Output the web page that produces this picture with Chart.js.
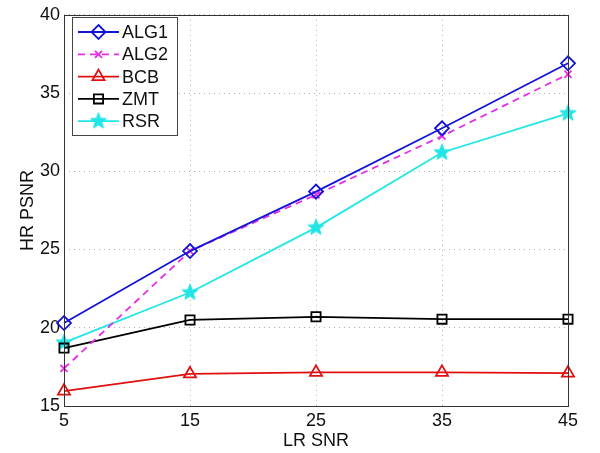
<!DOCTYPE html>
<html>
<head>
<meta charset="utf-8">
<script src="https://cdn.jsdelivr.net/npm/chart.js@4/dist/chart.umd.min.js"></script>
<style>
  html, body { margin: 0; padding: 0; background: #fff; }
  #wrap { width: 600px; height: 453px; position: relative; }
</style>
</head>
<body>
<div id="wrap"><canvas id="c" width="600" height="453"></canvas></div>
<script>
// ---- data ----
const xLabels = ['5', '15', '25', '35', '45'];
const seriesNames = ['ALG1', 'ALG2', 'BCB', 'ZMT', 'RSR'];
const alg1 = [20.3, 24.9, 28.7, 32.75, 36.9];
const alg2 = [17.4, 24.9, 28.5, 32.25, 36.2];
const bcb  = [15.95, 17.05, 17.15, 17.15, 17.1];
const zmt  = [18.7, 20.5, 20.7, 20.55, 20.55];
const rsr  = [19.05, 22.25, 26.4, 31.2, 33.7];
const yMin = 15, yMax = 40, yStep = 5;
const xTitle = 'LR SNR';
const yTitle = 'HR PSNR';

const FONT = "'Liberation Sans', Arial, Helvetica, sans-serif";
const colBlue = '#1414d8', colMag = '#e62ee6', colRed = '#e01010', colBlack = '#000000', colCyan = '#22e6e6';

// pentagram marker image
function makeStar(color, size, rOut, rIn) {
  const cv = document.createElement('canvas');
  cv.width = size; cv.height = size;
  const g = cv.getContext('2d');
  const cx = size / 2, cy = size / 2;
  g.beginPath();
  for (let i = 0; i < 10; i++) {
    const r = i % 2 === 0 ? rOut : rIn;
    const a = -Math.PI / 2 + i * Math.PI / 5;
    const px = cx + r * Math.cos(a), py = cy + r * Math.sin(a);
    if (i === 0) g.moveTo(px, py); else g.lineTo(px, py);
  }
  g.closePath();
  g.fillStyle = color; g.fill();
  g.strokeStyle = color; g.lineWidth = 1; g.stroke();
  return cv;
}
const starImg = makeStar(colCyan, 20, 8.5, 3.6);

function ds(label, data, color, style, radius, dash) {
  return {
    label, data,
    borderColor: color,
    backgroundColor: 'rgba(0,0,0,0)',
    borderWidth: 1.8,
    borderDash: dash || [],
    pointStyle: style,
    pointRadius: radius,
    pointBorderColor: color,
    pointBackgroundColor: 'rgba(0,0,0,0)',
    pointBorderWidth: 1.8,
    pointHoverRadius: radius,
    tension: 0,
    fill: false
  };
}

const datasets = [
  ds(seriesNames[0], alg1, colBlue, 'rectRot', 7),
  ds(seriesNames[1], alg2, colMag, 'crossRot', 5, [7, 5]),
  ds(seriesNames[2], bcb, colRed, 'triangle', 7),
  ds(seriesNames[3], zmt, colBlack, 'rect', 6.5),
  ds(seriesNames[4], rsr, colCyan, starImg, 8)
];

function drawMarker(ctx, d, x, y) {
  const st = d.pointStyle;
  if (st instanceof HTMLCanvasElement) {
    ctx.drawImage(st, x - st.width / 2, y - st.height / 2);
    return;
  }
  const r = d.pointRadius;
  ctx.save();
  ctx.setLineDash([]);
  ctx.strokeStyle = d.pointBorderColor;
  ctx.lineWidth = d.pointBorderWidth;
  ctx.beginPath();
  if (st === 'rectRot') {
    ctx.moveTo(x, y - r); ctx.lineTo(x + r, y); ctx.lineTo(x, y + r); ctx.lineTo(x - r, y); ctx.closePath();
  } else if (st === 'crossRot') {
    const s = r * Math.SQRT1_2;
    ctx.moveTo(x - s, y - s); ctx.lineTo(x + s, y + s);
    ctx.moveTo(x + s, y - s); ctx.lineTo(x - s, y + s);
  } else if (st === 'triangle') {
    ctx.moveTo(x, y - r); ctx.lineTo(x + r * Math.sin(Math.PI / 3), y + r / 2);
    ctx.lineTo(x - r * Math.sin(Math.PI / 3), y + r / 2); ctx.closePath();
  } else if (st === 'rect') {
    const s = r * Math.SQRT1_2;
    ctx.rect(x - s, y - s, 2 * s, 2 * s);
  }
  ctx.stroke();
  ctx.restore();
}

const boxPlugin = {
  id: 'boxAndLegend',
  afterDraw(chart) {
    const ctx = chart.ctx;
    const a = chart.chartArea;
    ctx.save();
    ctx.strokeStyle = '#333';
    ctx.lineWidth = 1;
    ctx.setLineDash([]);
    ctx.strokeRect(Math.round(a.left) + 0.5, Math.round(a.top) + 0.5,
                   Math.round(a.right - a.left), Math.round(a.bottom - a.top));

    // legend box
    const lx = 72, ly = 17, lw = 105, lh = 118;
    ctx.fillStyle = '#fff';
    ctx.fillRect(lx, ly, lw, lh);
    ctx.strokeStyle = '#444';
    ctx.strokeRect(lx + 0.5, ly + 0.5, lw, lh);
    const sets = chart.data.datasets;
    ctx.font = '18px ' + FONT;
    ctx.textBaseline = 'middle';
    ctx.textAlign = 'left';
    for (let i = 0; i < sets.length; i++) {
      const d = sets[i];
      const y = ly + 15 + i * 22.3;
      ctx.save();
      ctx.strokeStyle = d.borderColor;
      ctx.lineWidth = d.borderWidth;
      ctx.setLineDash(d.borderDash || []);
      ctx.beginPath();
      ctx.moveTo(78, y); ctx.lineTo(119, y);
      ctx.stroke();
      ctx.restore();
      drawMarker(ctx, d, 98.5, y);
      ctx.fillStyle = '#111';
      ctx.fillText(d.label, 122, y + 1);
    }
    ctx.restore();
  }
};

new Chart(document.getElementById('c'), {
  type: 'line',
  data: { labels: xLabels, datasets },
  plugins: [boxPlugin],
  options: {
    responsive: false,
    animation: false,
    events: [],
    layout: { padding: { top: 10, right: 32, left: 0, bottom: 0 } },
    plugins: { legend: { display: false }, tooltip: { enabled: false } },
    scales: {
      x: {
        type: 'category',
        offset: false,
        grid: { color: '#b0b0b0', lineWidth: 1, drawTicks: false },
        border: { display: false, dash: [1, 4] },
        ticks: { color: '#111', font: { family: FONT, size: 18 }, padding: 4, maxRotation: 0, autoSkip: false },
        title: { display: true, text: xTitle, color: '#111', font: { family: FONT, size: 18 }, padding: { top: 0, bottom: 1 } },
        afterFit(s) { s.height = 47; }
      },
      y: {
        min: yMin, max: yMax,
        grid: { color: '#b0b0b0', lineWidth: 1, drawTicks: false },
        border: { display: false, dash: [1, 4] },
        ticks: { stepSize: yStep, color: '#111', font: { family: FONT, size: 18 }, padding: 4 },
        title: { display: true, text: yTitle, color: '#111', font: { family: FONT, size: 18 }, padding: { top: 17, bottom: 0 } },
        afterFit(s) { s.width = 64; }
      }
    }
  }
});
</script>
</body>
</html>
